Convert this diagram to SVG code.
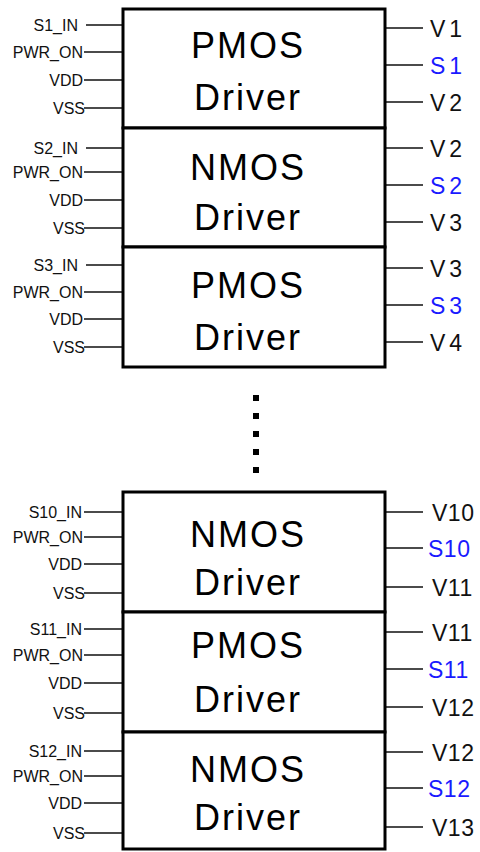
<svg xmlns="http://www.w3.org/2000/svg" width="480" height="852" viewBox="0 0 480 852">
<style>
.box{fill:#fff;stroke:#000;stroke-width:3}
.pin{stroke:#111;stroke-width:1.5}
.l{font-family:"Liberation Sans",Arial,sans-serif;font-size:16px;fill:#111;text-anchor:end}
.r{font-family:"Liberation Sans",Arial,sans-serif;font-size:23px;fill:#111;letter-spacing:4px}
.r2{font-family:"Liberation Sans",Arial,sans-serif;font-size:23px;fill:#111;letter-spacing:0.5px}
.s{fill:#1a1aff}
.m{font-family:"Liberation Sans",Arial,sans-serif;font-size:36px;fill:#000;text-anchor:middle;letter-spacing:2px}
.dot{fill:#000}
</style>
<g id="connectors">
<path class="pin" d="M86 25H123M84 52H123M84 80H123M84 108H123M385 28H423M385 65H423M385 102H423"/>
<path class="pin" d="M86 148H123M84 172H123M84 200H123M84 228H123M385 148H423M385 185H423M385 222H423"/>
<path class="pin" d="M86 265H123M84 292H123M84 319H123M84 347H123M385 268H423M385 305H423M385 342H423"/>
<path class="pin" d="M84 512H123M84 537H123M84 564H123M84 593H123M385 512H423M385 548H423M385 587H423"/>
<path class="pin" d="M84 629H123M84 655H123M84 683H123M84 713H123M385 632H423M385 669H423M385 707H423"/>
<path class="pin" d="M84 751H123M84 776H123M84 803H123M84 833H123M385 752H423M385 788H423M385 827H423"/>
</g>
<g id="driver1">
<rect class="box" x="123" y="9" width="262" height="119"/>
<text class="m" x="248" y="58">PMOS</text><text class="m" x="248" y="110">Driver</text>
<text class="l" x="78" y="31">S1_IN</text><text class="l" x="83" y="58">PWR_ON</text><text class="l" x="83" y="86">VDD</text><text class="l" x="85" y="114">VSS</text>
<text class="r" x="430" y="37">V1</text><text class="r s" x="430" y="74">S1</text><text class="r" x="430" y="111">V2</text>
</g>
<g id="driver2">
<rect class="box" x="123" y="128" width="262" height="119"/>
<text class="m" x="248" y="180">NMOS</text><text class="m" x="248" y="230">Driver</text>
<text class="l" x="78" y="154">S2_IN</text><text class="l" x="83" y="178">PWR_ON</text><text class="l" x="83" y="206">VDD</text><text class="l" x="85" y="234">VSS</text>
<text class="r" x="430" y="157">V2</text><text class="r s" x="430" y="194">S2</text><text class="r" x="430" y="231">V3</text>
</g>
<g id="driver3">
<rect class="box" x="123" y="247" width="262" height="120"/>
<text class="m" x="248" y="298">PMOS</text><text class="m" x="248" y="350">Driver</text>
<text class="l" x="78" y="271">S3_IN</text><text class="l" x="83" y="298">PWR_ON</text><text class="l" x="83" y="325">VDD</text><text class="l" x="85" y="353">VSS</text>
<text class="r" x="430" y="277">V3</text><text class="r s" x="430" y="314">S3</text><text class="r" x="430" y="351">V4</text>
</g>
<g id="ellipsis">
<rect class="dot" x="253" y="395" width="6" height="6"/>
<rect class="dot" x="253" y="413" width="6" height="6"/>
<rect class="dot" x="253" y="431" width="6" height="6"/>
<rect class="dot" x="253" y="449" width="6" height="6"/>
<rect class="dot" x="253" y="467" width="6" height="6"/>
</g>
<g id="driver10">
<rect class="box" x="123" y="492" width="262" height="120"/>
<text class="m" x="248" y="547">NMOS</text><text class="m" x="248" y="595">Driver</text>
<text class="l" x="82" y="518">S10_IN</text><text class="l" x="83" y="543">PWR_ON</text><text class="l" x="82" y="570">VDD</text><text class="l" x="85" y="599">VSS</text>
<text class="r2" x="432" y="521">V10</text><text class="r2 s" x="428" y="557">S10</text><text class="r2" x="432" y="596">V11</text>
</g>
<g id="driver11">
<rect class="box" x="123" y="612" width="262" height="120"/>
<text class="m" x="248" y="658">PMOS</text><text class="m" x="248" y="712">Driver</text>
<text class="l" x="82" y="635">S11_IN</text><text class="l" x="83" y="661">PWR_ON</text><text class="l" x="82" y="689">VDD</text><text class="l" x="85" y="719">VSS</text>
<text class="r2" x="432" y="641">V11</text><text class="r2 s" x="428" y="678">S11</text><text class="r2" x="432" y="716">V12</text>
</g>
<g id="driver12">
<rect class="box" x="123" y="732" width="262" height="117"/>
<text class="m" x="248" y="782">NMOS</text><text class="m" x="248" y="830">Driver</text>
<text class="l" x="82" y="757">S12_IN</text><text class="l" x="83" y="782">PWR_ON</text><text class="l" x="82" y="809">VDD</text><text class="l" x="85" y="839">VSS</text>
<text class="r2" x="432" y="761">V12</text><text class="r2 s" x="428" y="797">S12</text><text class="r2" x="432" y="836">V13</text>
</g>
</svg>
